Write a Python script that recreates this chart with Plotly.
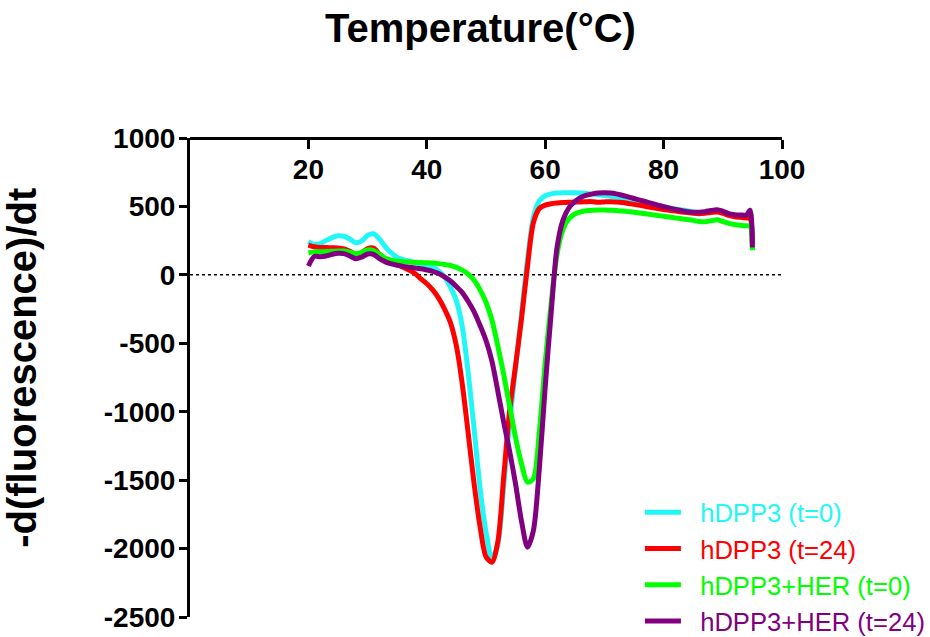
import plotly.graph_objects as go

# Melt-curve derivative data: temperature (°C) and -d(fluorescence)/dt per sample
temperature = list(range(20, 95)) + [94.6, 95.0]

hdpp3_t0 = [
    245, 222, 228, 252, 272, 285, 282, 262, 234, 248,
    288, 300, 262, 205, 160, 128, 112, 100, 90, 80,
    68, 55, 28, -15, -90, -190, -380, -720, -1130, -1560,
    -1880, -2070, -1970, -1540, -1080, -680, -280, 110, 420, 540,
    578, 592, 598, 600, 600, 600, 598, 595, 590, 585,
    580, 574, 568, 562, 555, 547, 538, 528, 518, 508,
    498, 490, 482, 475, 468, 460, 455, 456, 462, 468,
    458, 440, 430, 425, 420, 418, 230,
]

hdpp3_t24 = [
    218, 205, 200, 200, 198, 197, 190, 172, 150, 162,
    192, 195, 152, 112, 90, 74, 56, 35, 10, -30,
    -65, -110, -170, -250, -350, -520, -800, -1160, -1530, -1840,
    -2060, -2100, -1950, -1470, -990, -660, -320, 60, 380, 485,
    510, 520, 525, 528, 530, 532, 533, 535, 535, 530,
    533, 535, 532, 528, 522, 515, 508, 500, 492, 485,
    478, 472, 466, 460, 455, 450, 447, 450, 455, 460,
    450, 435, 425, 420, 415, 412, 230,
]

hdpp3_her_t0 = [
    160, 168, 168, 170, 172, 175, 174, 165, 155, 165,
    182, 178, 150, 122, 108, 100, 96, 94, 92, 90,
    88, 86, 82, 76, 68, 55, 35, 5, -40, -110,
    -200, -330, -520, -730, -960, -1190, -1380, -1515, -1490, -1150,
    -640, -210, 150, 330, 410, 445, 460, 468, 472, 474,
    474, 472, 470, 466, 462, 458, 452, 446, 440, 434,
    428, 422, 416, 410, 404, 398, 390, 388, 395, 402,
    390, 376, 368, 362, 358, 355, 180,
]

hdpp3_her_t24 = [
    65, 135, 132, 138, 150, 158, 155, 138, 118, 130,
    152, 150, 118, 95, 80, 70, 62, 56, 50, 44,
    36, 26, 10, -15, -45, -85, -130, -195, -270, -370,
    -480, -630, -850, -1080, -1290, -1530, -1800, -1990, -1870, -1420,
    -820, -280, 200, 400, 490, 535, 565, 582, 592, 598,
    600, 598, 592, 582, 570, 558, 546, 534, 522, 510,
    498, 488, 478, 470, 462, 458, 458, 462, 470, 475,
    465, 447, 440, 438, 438, 472, 200,
]

series_names = ["hDPP3 (t=0)", "hDPP3 (t=24)", "hDPP3+HER (t=0)", "hDPP3+HER (t=24)"]
series_values = [hdpp3_t0, hdpp3_t24, hdpp3_her_t0, hdpp3_her_t24]
series_colors = ["#22F7F7", "#FF0000", "#00FF00", "#800080"]

x_ticks = [20, 40, 60, 80, 100]
y_ticks = [1000, 500, 0, -500, -1000, -1500, -2000, -2500]

FONT = "Liberation Sans, Arial, sans-serif"
NBSP = "\u00a0"

fig = go.Figure()
for name, values, color in zip(series_names, series_values, series_colors):
    fig.add_trace(go.Scatter(
        x=temperature,
        y=values,
        mode="lines",
        line=dict(color=color, width=5, shape="spline", smoothing=0.8),
        name=f"{NBSP * 2}<span style='color:{color}'>{name}</span>",
    ))

# dotted baseline at zero
fig.add_shape(type="line", xref="x", yref="y", x0=0, x1=100, y0=0, y1=0,
              line=dict(color="black", width=1.5, dash="dot"), layer="below")

fig.update_layout(
    width=930,
    height=637,
    margin=dict(l=190, r=148, t=138, b=20, autoexpand=False),
    paper_bgcolor="white",
    plot_bgcolor="white",
    font=dict(family=FONT, color="black"),
    showlegend=True,
    legend=dict(
        x=0.760, y=0.267, xanchor="left", yanchor="top",
        bgcolor="rgba(0,0,0,0)",
        font=dict(family=FONT, size=25.6),
        itemwidth=36,
        tracegroupgap=0,
    ),
    xaxis=dict(
        range=[0, 100],
        tickvals=x_ticks,
        ticktext=[str(t) for t in x_ticks],
        anchor="free",
        position=1.0,
        side="bottom",
        showline=True, linecolor="black", linewidth=3,
        ticks="outside", ticklen=9, tickwidth=3, tickcolor="black",
        tickfont=dict(family=FONT, size=28, weight="bold"),
        ticklabelstandoff=-4,
        showgrid=False, zeroline=False,
    ),
    yaxis=dict(
        range=[-2500, 1000],
        tickvals=y_ticks,
        ticktext=[str(t) for t in y_ticks],
        showline=True, linecolor="black", linewidth=3,
        ticks="outside", ticklen=8, tickwidth=3, tickcolor="black",
        tickfont=dict(family=FONT, size=28, weight="bold"),
        ticklabelstandoff=-2,
        showgrid=False, zeroline=False,
    ),
    annotations=[
        dict(text="Temperature(°C)", xref="paper", yref="paper",
             x=0.49, y=1.230, xanchor="center", yanchor="middle",
             showarrow=False, font=dict(family=FONT, size=40, weight="bold")),
        dict(text="-d(fluorescence)/dt", xref="paper", yref="paper",
             x=-0.284, y=0.52, xanchor="center", yanchor="middle",
             textangle=-90, showarrow=False,
             font=dict(family=FONT, size=40, weight="bold")),
    ],
)

fig.write_html("out.html")
